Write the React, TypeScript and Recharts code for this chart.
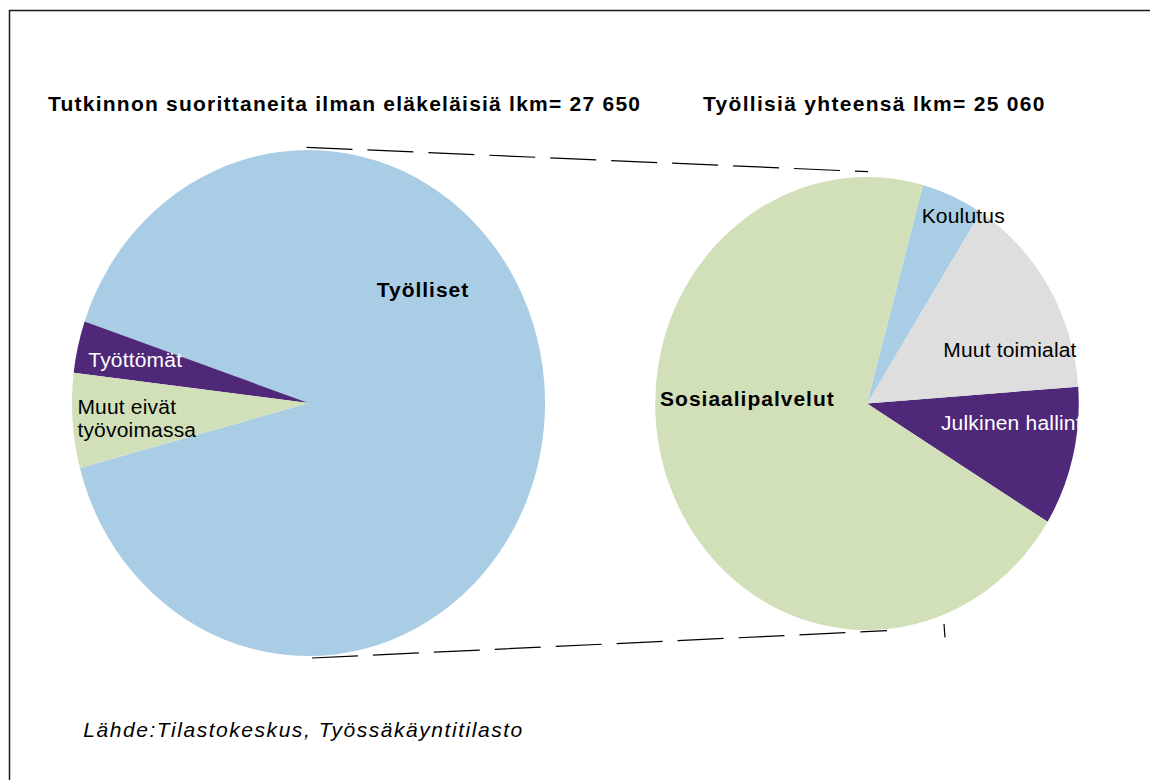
import React from "react";
import { PieChart, Pie, Cell } from "recharts";

// left pie: all graduates (excluding pensioners)
const leftNames = ["Työlliset", "Työttömät", "Muut eivät työvoimassa"];
const leftValues = [25060, 920, 1670];

// right pie: employed by industry
const rightNames = ["Julkinen hallinto", "Muut toimialat", "Koulutus", "Sosiaalipalvelut"];
const rightValues = [2490, 3710, 1190, 17670];

const titles = [
  "Tutkinnon suorittaneita ilman eläkeläisiä lkm= 27 650",
  "Työllisiä yhteensä lkm= 25 060",
];
const sourceText = "Lähde:Tilastokeskus, Työssäkäyntitilasto";

const FONT = '"Liberation Sans", Arial, Helvetica, sans-serif';
const W = 1150;
const H = 780;
// the original pies are a bit narrower than they are tall
const SX = 0.935;

const LEFT = { cx: 308.5, cy: 403, r: 253 };
const RIGHT = { cx: 867, cy: 403.5, r: 226.5 };

const colors: Record<string, string> = {
  "Työlliset": "#A9CDE4",
  "Työttömät": "#4F2879",
  "Muut eivät työvoimassa": "#D2E0B9",
  "Julkinen hallinto": "#4F2879",
  "Muut toimialat": "#DEDEDE",
  "Koulutus": "#A9CDE4",
  "Sosiaalipalvelut": "#D2E0B9",
};

type LabelPos = { fx: number; fy: number; anchor?: "start" | "middle"; bold?: boolean; fill?: string; wrap?: boolean };

// label placement as fractions of the pie radius (Excel labels were moved by hand)
const labelPos: Record<string, LabelPos> = {
  "Työlliset": { fx: 0.484, fy: -0.447, anchor: "middle", bold: true },
  "Työttömät": { fx: -0.931, fy: -0.174, fill: "#fff" },
  "Muut eivät työvoimassa": { fx: -0.977, fy: 0.012, wrap: true },
  "Sosiaalipalvelut": { fx: -0.977, fy: -0.024, bold: true },
  "Koulutus": { fx: 0.258, fy: -0.829 },
  "Muut toimialat": { fx: 0.36, fy: -0.24 },
  "Julkinen hallinto": { fx: 0.349, fy: 0.084, fill: "#fff" },
};

const leftData = leftNames.map((name, i) => ({ name, value: leftValues[i] }));
const rightData = rightNames.map((name, i) => ({ name, value: rightValues[i] }));

function makeLabel(prefix: string, clip: boolean) {
  return (props: any) => {
    const { cx, cy, outerRadius, index } = props;
    const name: string = props.name ?? props.payload?.name;
    const p = labelPos[name];
    if (!p) return null;
    const x = cx + p.fx * outerRadius;
    const y = cy + p.fy * outerRadius;
    const cut = name.lastIndexOf(" ");
    const lines = p.wrap ? [name.slice(0, cut), name.slice(cut + 1)] : [name];
    const id = `${prefix}-clip-${index}`;
    return (
      <g key={id} clipPath={clip ? `url(#${id})` : undefined}>
        {clip && (
          <defs>
            <clipPath id={id}>
              <rect x={cx - outerRadius} y={cy - outerRadius} width={outerRadius * 2} height={outerRadius * 2} />
            </clipPath>
          </defs>
        )}
        <text
          transform={`translate(${x},${y}) scale(${1 / SX},1)`}
          x={0}
          y={0}
          textAnchor={p.anchor ?? "start"}
          fontFamily={FONT}
          fontSize={21}
          fontWeight={p.bold ? "bold" : "normal"}
          letterSpacing={p.bold ? 1 : 0.2}
          fill={p.fill ?? "#000"}
        >
          {lines.map((line, i) => (
            <tspan key={i} x={0} dy={i === 0 ? "0.36em" : "1.1em"}>
              {line}
            </tspan>
          ))}
        </text>
      </g>
    );
  };
}

export default function App() {
  return (
    <div style={{ position: "relative", width: W, height: H, overflow: "hidden", background: "#fff" }}>
      <style>{"body{margin:0}"}</style>
      <div style={{ position: "absolute", left: 0, top: 0, transform: `scaleX(${SX})`, transformOrigin: "0 0" }}>
        <PieChart width={W / SX} height={H} margin={{ top: 0, right: 0, bottom: 0, left: 0 }}>
          <Pie
            data={leftData}
            dataKey="value"
            nameKey="name"
            cx={LEFT.cx / SX}
            cy={LEFT.cy}
            outerRadius={LEFT.r}
            startAngle={-165.1}
            endAngle={194.9}
            stroke="none"
            labelLine={false}
            label={makeLabel("left", false)}
            isAnimationActive={false}
          >
            {leftData.map((d) => (
              <Cell key={d.name} fill={colors[d.name]} />
            ))}
          </Pie>
          <Pie
            data={rightData}
            dataKey="value"
            nameKey="name"
            cx={RIGHT.cx / SX}
            cy={RIGHT.cy}
            outerRadius={RIGHT.r}
            startAngle={-31.5}
            endAngle={328.5}
            stroke="none"
            labelLine={false}
            label={makeLabel("right", true)}
            isAnimationActive={false}
          >
            {rightData.map((d) => (
              <Cell key={d.name} fill={colors[d.name]} />
            ))}
          </Pie>
        </PieChart>
      </div>
      <svg width={W} height={H} style={{ position: "absolute", left: 0, top: 0, pointerEvents: "none" }}>
        <path d={`M9.5 ${H} V10.5 H${W}`} fill="none" stroke="#1a1a1a" strokeWidth={1.5} />
        <g stroke="#000" strokeWidth={1.2} strokeDasharray="46 15">
          <line x1={LEFT.cx - 2} y1={LEFT.cy - LEFT.r - 2.7} x2={RIGHT.cx + 1} y2={RIGHT.cy - RIGHT.r - 5.3} />
          <line x1={LEFT.cx + 3.5} y1={LEFT.cy + LEFT.r + 2} x2={RIGHT.cx + 20} y2={RIGHT.cy + RIGHT.r + 0.7} />
        </g>
        <line x1={RIGHT.cx + 77} y1={RIGHT.cy + RIGHT.r - 6} x2={RIGHT.cx + 78} y2={RIGHT.cy + RIGHT.r + 7.5} stroke="#000" strokeWidth={1.2} />
        <g fontFamily={FONT} fontSize={21} fontWeight="bold" fill="#000">
          <text x={48} y={111} textLength={592} lengthAdjust="spacing">
            {titles[0]}
          </text>
          <text x={703} y={111} textLength={341.5} lengthAdjust="spacing">
            {titles[1]}
          </text>
        </g>
        <text x={83.3} y={736.7} fontFamily={FONT} fontSize={21} fontStyle="italic" fill="#000" textLength={439} lengthAdjust="spacing">
          {sourceText}
        </text>
      </svg>
    </div>
  );
}
